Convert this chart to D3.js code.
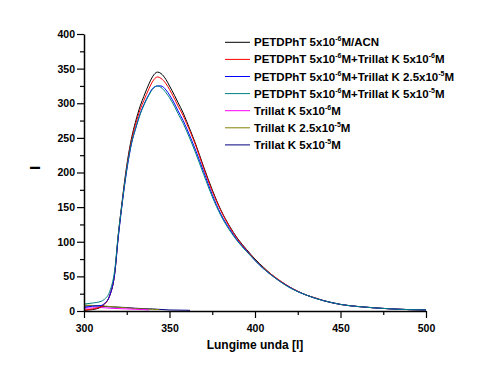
<!DOCTYPE html>
<html><head><meta charset="utf-8">
<script src="https://cdn.jsdelivr.net/npm/d3@7"></script>
<style>body{margin:0;background:#fff}svg{display:block;font-family:Arial,"Liberation Sans",sans-serif;font-weight:bold}</style>
</head><body><svg id="c" width="485" height="379"></svg>
<script>
const xMain = [300,305,310,312,315,318,320,322,325,328,330,333,335,338,340,343,345,348,350,353,355,358,360,365,370,375,380,385,390,395,400,405,410,415,420,425,430,435,440,445,450,460,470,480,490,500];
const sBlack = [1,2,6,10,22,55,108,152,210,252,272,297,310,328,338,345,343,334,325,311,301,286,274,243,208,175,146,123,104,89,75,63,52,43,35,28.5,23,19,15,12,9.5,6.5,4.5,3,2,1.5];
const sRed   = [1,3,6,10,22,55,108,150,207,249,268,292,304,321,331,338,336,328,320,306,296,282,271,241,206,173,145,122,103,88,74,62,52,43,35,28.5,23,19,15,12,9.5,6.5,4.5,3,2,1.5];
const sBlue  = [5,7,8,11,22,55,105,148,203,244,262,286,298,313,321,325,325,319,312,299,289,275,264,234,201,168,140,119,101,87,73,61,51,42,34.5,28,23,18.5,15,12,9.5,6.5,4.5,3,2,1.5];
const sTeal  = [10,11.5,14,17,28,60,110,150,205,245,262,285,297,312,320,325,323,315,308,295,285,271,260,230,197,165,138,117,100,86,73,61,51,42,34,28,23,18.5,15,12,9.5,6.5,4.5,3,2,1.5];
const xMag = [300,305,310,315,320,325,330,335,338];
const sMag = [4,4.5,5,4,3.5,3,2.5,2,1.5];
const xOlive = [300,305,310,315,320,325,330,335,340,344];
const sOlive = [8.5,8,7.5,6.5,5.5,4.5,3.5,3,2.5,2];
const xNavy = [300,305,310,315,320,325,330,340,350,362];
const sNavy = [7,7.5,7,6,5.5,5,4,3,1.5,1];
const legendLabels = [
  ["PETDPhT 5x10","-6","M/ACN"],
  ["PETDPhT 5x10","-6","M+Trillat K 5x10","-6","M"],
  ["PETDPhT 5x10","-6","M+Trillat K 2.5x10","-5","M"],
  ["PETDPhT 5x10","-6","M+Trillat K 5x10","-5","M"],
  ["Trillat K 5x10","-6","M"],
  ["Trillat K 2.5x10","-5","M"],
  ["Trillat K 5x10","-5","M"]
];
const colors = ["#000000","#ff0000","#0000ff","#008080","#ff00ff","#808000","#000080"];
const xTicks = [300,350,400,450,500];
const yTicks = [0,50,100,150,200,250,300,350,400];

const series = [
  {x:xMain,y:sBlack},{x:xMain,y:sRed},{x:xMain,y:sBlue},{x:xMain,y:sTeal},
  {x:xMag,y:sMag},{x:xOlive,y:sOlive},{x:xNavy,y:sNavy}
];
const svg = d3.select("#c");
const L=84,R=426,T=34,B=311;
const x = d3.scaleLinear().domain([300,500]).range([L,R]);
const y = d3.scaleLinear().domain([0,400]).range([B,T]);

const line = d3.line().x(d=>x(d[0])).y(d=>y(d[1])).curve(d3.curveMonotoneX);
const order=[6,5,4,0,1,2,3];
order.forEach(i=>{
  const s=series[i];
  svg.append("path").datum(s.x.map((v,j)=>[v,s.y[j]]))
    .attr("d",line).attr("fill","none").attr("stroke",colors[i]).attr("stroke-width",1);
});

const xa = svg.append("g").attr("transform",`translate(0,${B})`)
  .call(d3.axisBottom(x).tickValues(xTicks).tickSize(7).tickSizeOuter(0).tickFormat(d3.format("d")));
svg.append("g").attr("transform",`translate(0,${B})`)
  .call(d3.axisBottom(x).tickValues(d3.range(325,500,50)).tickSize(4).tickSizeOuter(0).tickFormat(""))
  .select(".domain").remove();
const ya = svg.append("g").attr("transform",`translate(${L},0)`)
  .call(d3.axisLeft(y).tickValues(yTicks).tickSize(7).tickSizeOuter(0).tickFormat(d3.format("d")));
svg.append("g").attr("transform",`translate(${L},0)`)
  .call(d3.axisLeft(y).tickValues(d3.range(25,400,50)).tickSize(4).tickSizeOuter(0).tickFormat(""))
  .select(".domain").remove();
svg.selectAll(".domain").attr("stroke","#000").attr("stroke-width",1.5);
svg.selectAll(".tick line").attr("stroke","#000").attr("stroke-width",1.2);
svg.selectAll(".tick text").attr("font-family","Arial,'Liberation Sans',sans-serif").attr("font-weight","bold").attr("font-size","10.5px").attr("fill","#000");
xa.selectAll(".tick text").attr("dy","1.05em");
ya.selectAll(".tick text").attr("x",-9);

svg.append("text").attr("x",(L+R)/2).attr("y",349).attr("text-anchor","middle").attr("font-size","12px").text("Lungime unda [l]");
svg.append("text").attr("transform","translate(40,168) rotate(-90)").attr("text-anchor","middle").attr("font-size","15px").text("I");

legendLabels.forEach((lab,i)=>{
  const yy = 42.3 + i*17.1;
  svg.append("line").attr("x1",225).attr("x2",250).attr("y1",yy).attr("y2",yy).attr("stroke",colors[i]).attr("stroke-width",1);
  const t = svg.append("text").attr("x",254).attr("y",yy+4).attr("font-size","11.5px");
  lab.forEach((part,k)=>{
    if(k%2===1){
      t.append("tspan").attr("font-size","7px").attr("dy",-5).text(part);
    } else {
      const ts=t.append("tspan").text(part);
      if(k>0) ts.attr("dy",5);
    }
  });
});
</script></body></html>
